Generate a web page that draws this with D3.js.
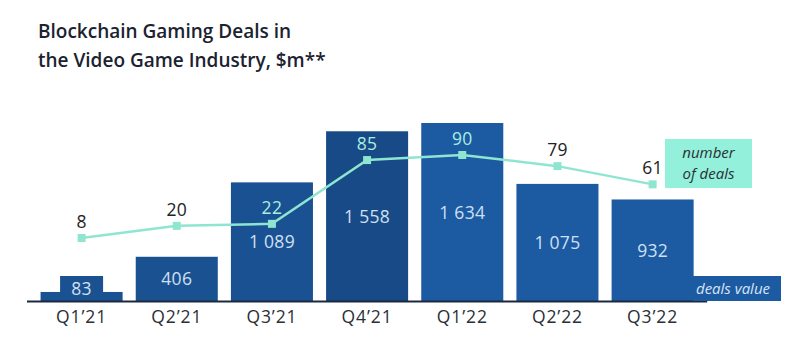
<!DOCTYPE html>
<html><head><meta charset="utf-8">
<script src="https://cdn.jsdelivr.net/npm/d3@7"></script>
<style>
html,body{margin:0;padding:0;background:#fff;}
svg{display:block;font-family:"Open Sans","Noto Sans",sans-serif;}
</style></head>
<body><svg id="chart" width="800" height="355"></svg>
<script>
const quarters = ["Q1’21","Q2’21","Q3’21","Q4’21","Q1’22","Q2’22","Q3’22"];
const dealsValue = [83, 406, 1089, 1558, 1634, 1075, 932];
const dealsCount = [8, 20, 22, 85, 90, 79, 61];
const titleLines = ["Blockchain Gaming Deals in", "the Video Game Industry, $m**"];
const legendValue = "deals value";
const legendCount = ["number", "of deals"];

const svg = d3.select("#chart");
const fmt = d3.formatLocale({decimal:".", thousands:" ", grouping:[3], currency:["",""]}).format(",");

const baseY = 301;
const x = d3.scaleBand().domain(quarters).range([34, 700.2]).paddingInner(0.138).paddingOuter(0.069);
const yBar = d3.scaleLinear().domain([0, 1634]).range([baseY, 123]);
const yLine = d3.scaleLinear().domain([0, 90]).range([246.1, 155]);
const barColor = d3.scaleOrdinal().domain(quarters)
  .range(["#1a5191","#1a5191","#1a5193","#174a86","#1c5aa2","#1c5aa2","#1c5aa2"]);

// title
svg.append("g").selectAll("text").data(titleLines).join("text")
  .attr("x", 38).attr("y", (d,i) => 38 + i*28.5)
  .attr("font-size", 19).attr("font-weight", 600).attr("fill", "#1b2230")
  .text(d => d);

const data = quarters.map((q,i) => ({q, v: dealsValue[i], n: dealsCount[i]}));

// bars
svg.append("g").selectAll("rect").data(data).join("rect")
  .attr("x", d => x(d.q)).attr("width", x.bandwidth())
  .attr("y", d => yBar(d.v)).attr("height", d => baseY - yBar(d.v))
  .attr("fill", d => barColor(d.q));

// label boxes for short bars
const boxH = 25;
svg.append("g").selectAll("rect").data(data.filter(d => baseY - yBar(d.v) < boxH)).join("rect")
  .attr("x", d => x(d.q) + x.bandwidth()/2 - 21.5).attr("width", 43)
  .attr("y", baseY - boxH).attr("height", boxH)
  .attr("fill", d => barColor(d.q));

// value labels
svg.append("g").selectAll("text").data(data).join("text")
  .attr("x", d => x(d.q) + x.bandwidth()/2)
  .attr("y", d => {
    const top = Math.min(yBar(d.v), baseY - boxH);
    return (top + baseY)/2 + 6.5;
  })
  .attr("text-anchor", "middle").attr("font-size", 17.5).attr("letter-spacing", 0.3)
  .attr("fill", "#cfe0f3")
  .text(d => fmt(d.v));

// axis line
svg.append("line")
  .attr("x1", x.range()[0] - 7).attr("x2", x.range()[1] + 7)
  .attr("y1", baseY + 0.5).attr("y2", baseY + 0.5)
  .attr("stroke", "#1a2840").attr("stroke-width", 2);

// axis labels
const axis = svg.append("g").attr("transform", `translate(0,${baseY})`)
  .call(d3.axisBottom(x).tickSize(0).tickPadding(10));
axis.select(".domain").remove();
axis.selectAll("text").attr("font-size", 17.5).attr("letter-spacing", 0.9).attr("fill", "#2b2f36")
  .attr("font-family", "'Open Sans','Noto Sans',sans-serif");

// legend: deals value
const lv = svg.append("g");
lv.append("rect").attr("x", 693).attr("y", baseY - boxH).attr("width", 88).attr("height", boxH)
  .attr("fill", "#1c5aa2");
lv.append("text").attr("x", 733).attr("y", baseY - 7.5).attr("text-anchor", "middle")
  .attr("font-size", 15).attr("font-style", "italic").attr("fill", "#d6e5f5").text(legendValue);

// line
const cx = d => x(d.q) + x.bandwidth()/2;
svg.append("path").datum(data)
  .attr("d", d3.line().x(cx).y(d => yLine(d.n)))
  .attr("fill", "none").attr("stroke", "#8fe6d0").attr("stroke-width", 2.5);
svg.append("g").selectAll("rect").data(data).join("rect")
  .attr("x", d => cx(d) - 4).attr("y", d => yLine(d.n) - 4)
  .attr("width", 8).attr("height", 8).attr("fill", "#8fe6d0");

// line labels
svg.append("g").selectAll("text").data(data).join("text")
  .attr("x", cx).attr("y", d => yLine(d.n) - 10)
  .attr("text-anchor", "middle").attr("font-size", 17.5).attr("letter-spacing", 0.3)
  .attr("fill", d => (yLine(d.n) - 24 > yBar(d.v)) ? "#a9eedf" : "#222")
  .text(d => d.n);

// legend: number of deals
const ln = svg.append("g");
ln.append("rect").attr("x", 665).attr("y", 139).attr("width", 87).attr("height", 49)
  .attr("fill", "#93f0da");
ln.selectAll("text").data(legendCount).join("text")
  .attr("x", 708.5).attr("y", (d,i) => 158 + i*21).attr("text-anchor", "middle")
  .attr("font-size", 15).attr("font-style", "italic").attr("fill", "#2a2f35").text(d => d);
</script></body></html>
